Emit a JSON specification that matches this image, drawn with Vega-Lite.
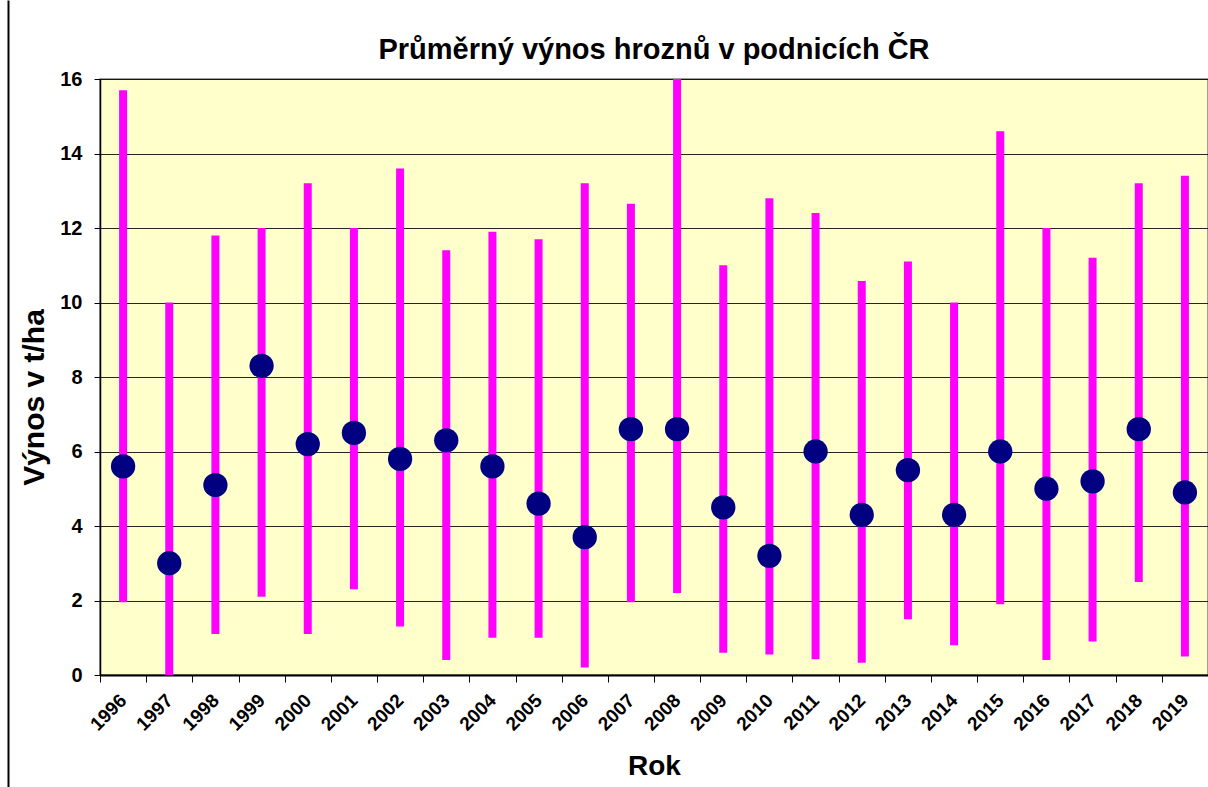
{
  "$schema": "https://vega.github.io/schema/vega-lite/v6.json",
  "width": 1108,
  "height": 596,
  "autosize": {"type": "none"},
  "padding": {"left": 100, "top": 79, "right": 0, "bottom": 112},
  "background": "white",
  "title": {
    "text": "Průměrný výnos hroznů v podnicích ČR",
    "font": "Liberation Sans",
    "fontSize": 29,
    "fontWeight": "bold",
    "color": "black",
    "anchor": "middle",
    "offset": 4
  },
  "config": {
    "view": {"fill": "#FFFFCC", "stroke": "#808080", "strokeWidth": 1.5},
    "axis": {
      "labelFont": "Liberation Sans",
      "labelFontWeight": "bold",
      "labelColor": "black",
      "titleFont": "Liberation Sans",
      "titleFontWeight": "bold",
      "titleColor": "black",
      "domainColor": "black",
      "tickColor": "black"
    }
  },
  "data": {
    "values": [
      {"year": "1996", "low": 1.95, "high": 15.7, "avg": 5.6},
      {"year": "1997", "low": 0.0, "high": 10.0, "avg": 3.0},
      {"year": "1998", "low": 1.1, "high": 11.8, "avg": 5.1},
      {"year": "1999", "low": 2.1, "high": 12.0, "avg": 8.3},
      {"year": "2000", "low": 1.1, "high": 13.2, "avg": 6.2},
      {"year": "2001", "low": 2.3, "high": 12.0, "avg": 6.5},
      {"year": "2002", "low": 1.3, "high": 13.6, "avg": 5.8},
      {"year": "2003", "low": 0.4, "high": 11.4, "avg": 6.3},
      {"year": "2004", "low": 1.0, "high": 11.9, "avg": 5.6},
      {"year": "2005", "low": 1.0, "high": 11.7, "avg": 4.6},
      {"year": "2006", "low": 0.2, "high": 13.2, "avg": 3.7},
      {"year": "2007", "low": 1.95, "high": 12.65, "avg": 6.6},
      {"year": "2008", "low": 2.2, "high": 16.0, "avg": 6.6},
      {"year": "2009", "low": 0.6, "high": 11.0, "avg": 4.5},
      {"year": "2010", "low": 0.55, "high": 12.8, "avg": 3.2},
      {"year": "2011", "low": 0.42, "high": 12.4, "avg": 6.0},
      {"year": "2012", "low": 0.33, "high": 10.58, "avg": 4.3},
      {"year": "2013", "low": 1.5, "high": 11.1, "avg": 5.5},
      {"year": "2014", "low": 0.8, "high": 10.0, "avg": 4.3},
      {"year": "2015", "low": 1.9, "high": 14.6, "avg": 6.0},
      {"year": "2016", "low": 0.4, "high": 12.0, "avg": 5.0},
      {"year": "2017", "low": 0.9, "high": 11.2, "avg": 5.2},
      {"year": "2018", "low": 2.5, "high": 13.2, "avg": 6.6},
      {"year": "2019", "low": 0.5, "high": 13.4, "avg": 4.9}
    ]
  },
  "encoding": {
    "x": {
      "field": "year",
      "type": "ordinal",
      "scale": {"paddingInner": 0, "paddingOuter": 0},
      "axis": {
        "title": "Rok",
        "titleFontSize": 28,
        "titleY": 99,
        "titleBaseline": "alphabetic",
        "labelFontSize": 19,
        "labelAngle": -45,
        "labelAlign": "right",
        "labelBaseline": "middle",
        "labelPadding": 15,
        "tickSize": 7,
        "tickBand": "extent",
        "domainWidth": 2,
        "grid": false
      }
    }
  },
  "layer": [
    {
      "mark": {"type": "circle", "opacity": 0},
      "encoding": {
        "y": {
          "field": "avg",
          "type": "quantitative",
          "scale": {"domain": [0, 16], "nice": false, "range": [708, -79]},
          "axis": {
            "orient": "left",
            "offset": 92,
            "labels": false,
            "ticks": false,
            "title": null,
            "grid": false,
            "domainWidth": 2,
            "domainColor": "black"
          }
        }
      }
    },
    {
      "mark": {"type": "rule", "color": "#FF00FF", "strokeWidth": 8, "strokeCap": "butt"},
      "encoding": {
        "y": {
          "field": "low",
          "type": "quantitative",
          "scale": {"domain": [0, 16], "nice": false},
          "axis": {
            "orient": "left",
            "title": "Výnos v t/ha",
            "titleFontSize": 30,
            "titleAngle": 270,
            "titleX": -57,
            "titleY": 318,
            "titleBaseline": "alphabetic",
            "values": [0, 2, 4, 6, 8, 10, 12, 14, 16],
            "labelFontSize": 20,
            "labelPadding": 12,
            "tickSize": 6,
            "domainWidth": 1.5,
            "grid": true,
            "gridColor": "black",
            "gridWidth": 1,
            "gridOpacity": 0.85
          }
        },
        "y2": {"field": "high"}
      }
    },
    {
      "mark": {"type": "circle", "size": 590, "color": "#000080", "opacity": 1},
      "encoding": {
        "y": {
          "field": "avg",
          "type": "quantitative",
          "scale": {"domain": [0, 16], "nice": false},
          "axis": null
        }
      }
    }
  ],
  "resolve": {"scale": {"y": "independent"}}
}
